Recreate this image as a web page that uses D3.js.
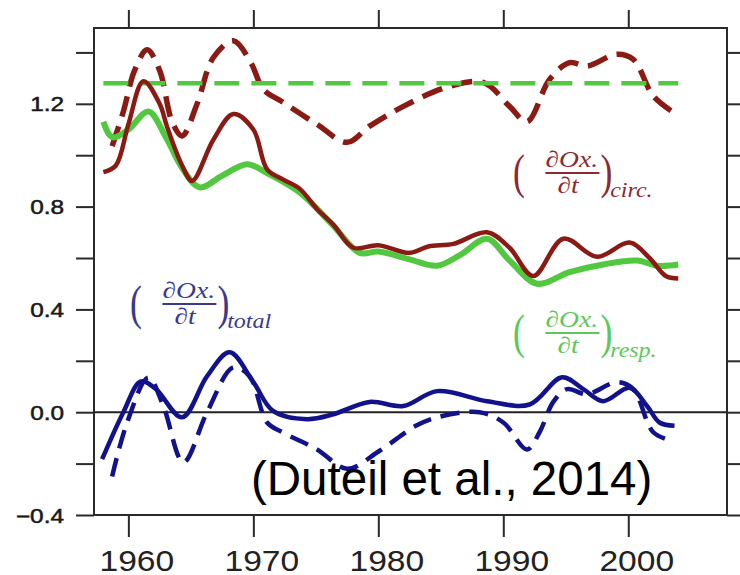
<!DOCTYPE html>
<html>
<head>
<meta charset="utf-8">
<script src="https://cdn.jsdelivr.net/npm/d3@7"></script>
<style>
  body { margin: 0; background: #fff; }
  svg { display: block; }
</style>
</head>
<body>
<div id="chart"></div>
<script>
// circulation term (solid / dashed), response term, total (solid / dashed)
var circYears = [1958, 1959, 1960, 1961.2, 1962.5, 1963.1, 1964.3, 1965.1, 1966.8, 1968.4, 1970, 1971.1, 1972.4, 1973.7, 1975.1, 1976.4, 1978, 1980, 1982.5, 1984, 1986, 1988.7, 1990.5, 1992.4, 1994.8, 1997.5, 2000.1, 2001.7, 2003, 2004];
var circVals  = [0.934, 0.96, 1.12, 1.288, 1.2, 1.11, 0.96, 0.90, 1.06, 1.16, 1.10, 0.945, 0.905, 0.87, 0.79, 0.73, 0.64, 0.65, 0.62, 0.645, 0.655, 0.70, 0.64, 0.53, 0.675, 0.605, 0.66, 0.60, 0.53, 0.52];

var circDashYears = [1958.7, 1959.6, 1960.5, 1961.5, 1962.5, 1963.5, 1964.3, 1965.5, 1966.8, 1968.4, 1969.8, 1970.8, 1972.4, 1975.1, 1977.5, 1979.3, 1982, 1985.5, 1988.4, 1990.5, 1991.9, 1993.7, 1995.3, 1996.7, 1999.1, 2000.4, 2002, 2003.6];
var circDashVals  = [1.035, 1.17, 1.33, 1.41, 1.33, 1.13, 1.075, 1.2, 1.38, 1.445, 1.36, 1.257, 1.205, 1.12, 1.05, 1.113, 1.19, 1.265, 1.283, 1.19, 1.13, 1.295, 1.36, 1.347, 1.393, 1.373, 1.23, 1.167];

var respYears = [1958, 1958.7, 1960, 1961.6, 1963, 1964.3, 1965.7, 1967.5, 1969.5, 1971.1, 1973.7, 1976.4, 1978.5, 1980, 1982.5, 1984.7, 1986.5, 1988.7, 1990.5, 1992.7, 1995.3, 1998, 2000.7, 2002.3, 2004];
var respVals  = [1.13, 1.07, 1.10, 1.17, 1.07, 0.95, 0.875, 0.92, 0.965, 0.93, 0.855, 0.725, 0.62, 0.625, 0.595, 0.57, 0.61, 0.675, 0.59, 0.50, 0.545, 0.575, 0.59, 0.57, 0.575];

var respDashYears = [1958, 2004];
var respDashVals  = [1.28, 1.28];

var totalYears = [1957.9, 1959.6, 1961, 1962.2, 1964.3, 1966.3, 1968.1, 1970, 1971.6, 1974.3, 1976.4, 1979.3, 1982, 1984.7, 1988.7, 1992.1, 1994.7, 1996.4, 1998, 2000.1, 2001.5, 2002.5, 2003.7];
var totalVals  = [-0.183, 0.0, 0.12, 0.09, -0.02, 0.14, 0.233, 0.117, 0.004, -0.027, -0.008, 0.04, 0.024, 0.082, 0.043, 0.03, 0.136, 0.09, 0.043, 0.095, 0.024, -0.04, -0.053];

var totalDashYears = [1958.7, 1959.9, 1961.6, 1962.8, 1964.4, 1966.3, 1968.4, 1969.7, 1971.1, 1972.4, 1975.1, 1977.5, 1980.1, 1983, 1984.7, 1988.1, 1990, 1991.9, 1992.9, 1994, 1995.1, 1996.7, 1999.1, 2000.4, 2002, 2003.6];
var totalDashVals  = [-0.25, -0.04, 0.135, 0.024, -0.195, 0.0, 0.175, 0.14, -0.04, -0.08, -0.145, -0.22, -0.15, -0.053, -0.02, 0.0, -0.04, -0.145, -0.078, 0.04, 0.09, 0.07, 0.117, 0.09, -0.078, -0.113];

var yearTicks = [1960, 1970, 1980, 1990, 2000];
var yTicks = [-0.4, -0.2, 0, 0.2, 0.4, 0.6, 0.8, 1.0, 1.2, 1.4];
var yLabelTicks = [-0.4, 0, 0.4, 0.8, 1.2];

var W = 740, H = 575;
var plotL = 94, plotR = 727, plotT = 28, plotB = 515;

var svg = d3.select("#chart").append("svg")
    .attr("width", W)
    .attr("height", H);

var x = d3.scaleLinear().domain([1957.25, 2007.9]).range([plotL, plotR]);
var y = d3.scaleLinear().domain([-0.4, 1.495]).range([plotB, plotT]);

var axisColor = "#2a2a2a";

// left axis with labels on major ticks only
var yAxis = d3.axisLeft(y).tickValues(yTicks).tickSize(18).tickPadding(12)
    .tickFormat(function(d) {
        var isMajor = yLabelTicks.some(function(v) { return Math.abs(v - d) < 1e-9; });
        return isMajor ? d3.format(".1f")(d).replace("-", "\u2212") : "";
    });

var gy = svg.append("g")
    .attr("transform", "translate(" + plotL + ",0)")
    .call(yAxis);
gy.select(".domain").remove();
gy.selectAll("line").attr("stroke", axisColor).attr("stroke-width", 2);
gy.selectAll("text")
    .attr("x", null)
    .attr("dy", "0.36em")
    .attr("transform", "translate(-30,0) scale(1.25,1)")
    .attr("fill", "#1a1a1a")
    .attr("stroke", "#1a1a1a")
    .attr("stroke-width", 0.5)
    .style("font-family", "'Liberation Sans', Arial, sans-serif")
    .style("font-size", "19.5px");

var gyr = svg.append("g")
    .attr("transform", "translate(" + plotR + ",0)")
    .call(d3.axisRight(y).tickValues(yTicks).tickSize(14).tickFormat(""));
gyr.select(".domain").remove();
gyr.selectAll("line").attr("stroke", axisColor).attr("stroke-width", 2);

var gxt = svg.append("g")
    .attr("transform", "translate(0," + plotT + ")")
    .call(d3.axisTop(x).tickValues(yearTicks).tickSize(18).tickFormat(""));
gxt.select(".domain").remove();
gxt.selectAll("line").attr("stroke", axisColor).attr("stroke-width", 2);

var gxb = svg.append("g")
    .attr("transform", "translate(0," + plotB + ")")
    .call(d3.axisBottom(x).tickValues(yearTicks).tickSize(22).tickFormat(d3.format("d")));
gxb.select(".domain").remove();
gxb.selectAll("line").attr("stroke", axisColor).attr("stroke-width", 2);
gxb.selectAll("text")
    .attr("y", null)
    .attr("dy", null)
    .attr("transform", "translate(8,56) scale(1.12,1)")
    .attr("fill", "#222")
    .style("font-family", "'Liberation Sans', Arial, sans-serif")
    .style("font-size", "30px");

// frame
svg.append("rect")
    .attr("x", plotL).attr("y", plotT)
    .attr("width", plotR - plotL).attr("height", plotB - plotT)
    .attr("fill", "none")
    .attr("stroke", axisColor)
    .attr("stroke-width", 2);

// zero line
svg.append("line")
    .attr("x1", plotL).attr("x2", plotR)
    .attr("y1", y(0)).attr("y2", y(0))
    .attr("stroke", "#222")
    .attr("stroke-width", 2);

var line = d3.line()
    .x(function(d) { return x(d[0]); })
    .y(function(d) { return y(d[1]); })
    .curve(d3.curveCatmullRom.alpha(0.5));

function drawSeries(years, vals, color, width, dash) {
    svg.append("path")
        .datum(d3.zip(years, vals))
        .attr("d", line)
        .attr("fill", "none")
        .attr("stroke", color)
        .attr("stroke-width", width)
        .attr("stroke-linecap", "butt")
        .attr("stroke-linejoin", "round")
        .attr("stroke-dasharray", dash || null);
}

var red = "#8a1a14", green = "#52c840", navy = "#12128a";

drawSeries(circDashYears, circDashVals, red, 5.5, "21,10");
drawSeries(respDashYears, respDashVals, green, 4.5, "25,12");
drawSeries(respYears, respVals, green, 6, null);
drawSeries(circYears, circVals, red, 4.5, null);
drawSeries(totalDashYears, totalDashVals, navy, 4.5, "19,10");
drawSeries(totalYears, totalVals, navy, 4.5, null);

// (dOx./dt)_sub labels, drawn in a horizontally stretched group
function mathLabel(px, barY, color, sub) {
    var g = svg.append("g").attr("fill", color)
        .attr("transform", "translate(" + px + "," + barY + ") scale(1.2,1)")
        .style("font-family", "'Liberation Serif', 'Times New Roman', serif");
    g.append("text").attr("transform", "translate(0,15) scale(0.62,1)")
        .style("font-size", "48px").text("(");
    g.append("text").attr("x", 27).attr("y", -6)
        .style("font-size", "23px").style("font-style", "italic").text("\u2202Ox.");
    g.append("rect").attr("x", 27).attr("y", -1)
        .attr("width", 45).attr("height", 2);
    g.append("text").attr("x", 37).attr("y", 20)
        .style("font-size", "23px").style("font-style", "italic").text("\u2202t");
    g.append("text").attr("transform", "translate(73,15) scale(0.62,1)")
        .style("font-size", "48px").text(")");
    g.append("text").attr("x", 81).attr("y", 24)
        .style("font-size", "20px").style("font-style", "italic").text(sub);
}

mathLabel(513, 173, "#8c2a33", "circ.");
mathLabel(130, 304, "#3a3a8c", "total");
mathLabel(513, 333, "#5cc85a", "resp.");

svg.append("text")
    .attr("x", 251).attr("y", 495)
    .attr("fill", "#000")
    .style("font-family", "'Liberation Sans', Arial, sans-serif")
    .style("font-size", "47.5px")
    .text("(Duteil et al., 2014)");
</script>
</body>
</html>
